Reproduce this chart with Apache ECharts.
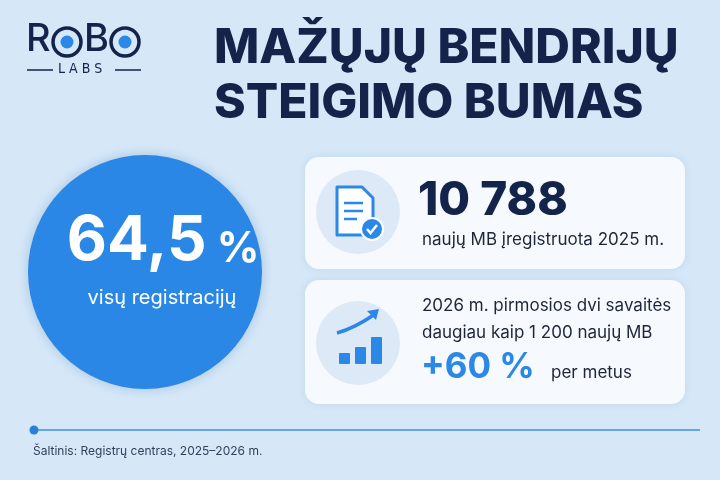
<!DOCTYPE html>
<html lang="lt">
<head>
<meta charset="UTF-8">
<title>Mažųjų bendrijų steigimo bumas</title>
<script src="https://cdn.jsdelivr.net/npm/echarts@6/dist/echarts.min.js"></script>
<style>
    *{margin:0;padding:0;}
    html,body{width:100%;height:100%;background:#d6e8f8;}
    .main{width:720px;height:480px;}
</style>
</head>
<body>
<div class="main"></div>
<script>
    const titleLines = ['MAŽŲJŲ BENDRIJŲ', 'STEIGIMO BUMAS'];
    const shareValue = ['64,5', '%'];
    const shareLabel = 'visų registracijų';
    const registered = ['10 788', 'naujų MB įregistruota 2025 m.'];
    const growthLines = ['2026 m. pirmosios dvi savaitės', 'daugiau kaip 1 200 naujų MB'];
    const growthValue = ['+60 %', 'per metus'];
    const iconBars = [11, 17, 27];
    const source = 'Šaltinis: Registrų centras, 2025–2026 m.';

    const F = 'Inter, "Noto Sans", sans-serif';
    const navy = '#13234a';
    const blue = '#2b88e6';

    let main = echarts.init(document.getElementsByClassName('main')[0]);

    let bars = iconBars.map((h, i) => ({
        type: 'rect',
        shape: {x: 339 + i * 16, y: 364 - h, width: 11, height: h, r: 1},
        style: {fill: blue}
    }));

    let graphic = [
        // logo
        {type: 'text', left: 26, top: 21, style: {text: 'R', font: '500 38px ' + F, fill: navy}},
        {type: 'circle', shape: {cx: 67, cy: 42, r: 14}, style: {fill: 'none', stroke: navy, lineWidth: 3.5}},
        {type: 'circle', shape: {cx: 67, cy: 42, r: 6.5}, style: {fill: blue}},
        {type: 'text', left: 84, top: 21, style: {text: 'B', font: '500 38px ' + F, fill: navy}},
        {type: 'circle', shape: {cx: 125, cy: 42, r: 14}, style: {fill: 'none', stroke: navy, lineWidth: 3.5}},
        {type: 'circle', shape: {cx: 125, cy: 42, r: 6.5}, style: {fill: blue}},
        {type: 'line', shape: {x1: 27, y1: 70, x2: 53, y2: 70}, style: {stroke: navy, lineWidth: 1.5}},
        {type: 'line', shape: {x1: 115, y1: 70, x2: 141, y2: 70}, style: {stroke: navy, lineWidth: 1.5}},
        {type: 'text', left: 58, top: 62, style: {text: 'L A B S', font: '14px "DejaVu Sans Condensed", sans-serif', fill: navy}},
        // title
        {type: 'text', left: 214, top: 25, style: {text: titleLines[0], font: '800 48px ' + F, fill: navy}},
        {type: 'text', left: 214, top: 80, style: {text: titleLines[1], font: '800 48px ' + F, fill: navy}},
        // big circle
        {type: 'circle', shape: {cx: 145, cy: 272, r: 117}, style: {fill: '#2a87e5', shadowBlur: 12, shadowColor: 'rgba(20,80,160,0.25)'}},
        {type: 'text', x: 163, y: 272, style: {
            text: '{a|' + shareValue[0] + '}{b| ' + shareValue[1] + '}', align: 'center', verticalAlign: 'bottom',
            rich: {a: {font: '700 62px ' + F, fill: '#fff'}, b: {font: '700 42px ' + F, fill: '#fff', padding: [16, 0, 0, 0]}}
        }},
        {type: 'text', x: 162, y: 298, style: {text: shareLabel, align: 'center', verticalAlign: 'middle', font: '20px ' + F, fill: '#fff'}},
        // cards
        {type: 'rect', shape: {x: 305, y: 157, width: 380, height: 112, r: 14}, style: {fill: '#f6f9fd', shadowBlur: 8, shadowColor: 'rgba(40,90,150,0.12)'}},
        {type: 'rect', shape: {x: 305, y: 280, width: 380, height: 124, r: 14}, style: {fill: '#f6f9fd', shadowBlur: 8, shadowColor: 'rgba(40,90,150,0.12)'}},
        {type: 'circle', shape: {cx: 358, cy: 212, r: 42}, style: {fill: '#dde9f6'}},
        {type: 'circle', shape: {cx: 358, cy: 343, r: 42}, style: {fill: '#dde9f6'}},
        // document icon
        {type: 'polygon', shape: {points: [[337, 187], [362, 187], [373, 198], [373, 235], [337, 235]]}, style: {fill: '#fff', stroke: blue, lineWidth: 3, lineJoin: 'round'}},
        {type: 'line', shape: {x1: 344, y1: 203, x2: 363, y2: 203}, style: {stroke: blue, lineWidth: 2.5}},
        {type: 'line', shape: {x1: 344, y1: 211, x2: 363, y2: 211}, style: {stroke: blue, lineWidth: 2.5}},
        {type: 'line', shape: {x1: 344, y1: 219, x2: 357, y2: 219}, style: {stroke: blue, lineWidth: 2.5}},
        {type: 'circle', shape: {cx: 372, cy: 229, r: 11}, style: {fill: blue, stroke: '#fff', lineWidth: 2}},
        {type: 'polyline', shape: {points: [[367, 229], [370.5, 233], [377, 225]]}, style: {stroke: '#fff', lineWidth: 2.5, fill: 'none'}},
        // growth icon
        ...bars,
        {type: 'bezierCurve', shape: {x1: 337, y1: 333, cpx1: 355, cpy1: 328, x2: 375, y2: 314}, style: {stroke: blue, lineWidth: 3.5, fill: 'none'}},
        {type: 'polygon', shape: {points: [[379, 309], [367, 311], [376, 320]]}, style: {fill: blue}},
        // card texts
        {type: 'text', left: 418, top: 178, style: {text: registered[0], font: '800 46px ' + F, fill: navy}},
        {type: 'text', left: 422, top: 231, style: {text: registered[1], font: '17px ' + F, fill: '#1d2538'}},
        {type: 'text', left: 422, top: 297, style: {text: growthLines[0], font: '17px ' + F, fill: '#1d2538'}},
        {type: 'text', left: 422, top: 324, style: {text: growthLines[1], font: '17px ' + F, fill: '#1d2538'}},
        {type: 'text', left: 421, top: 350, style: {text: growthValue[0], font: '700 35px ' + F, fill: blue}},
        {type: 'text', left: 551, top: 364, style: {text: growthValue[1], font: '17px ' + F, fill: '#1d2538'}},
        // footer
        {type: 'line', shape: {x1: 33, y1: 430, x2: 700, y2: 430}, style: {stroke: '#3d8fe0', lineWidth: 1.5}},
        {type: 'circle', shape: {cx: 34, cy: 430, r: 4.5}, style: {fill: '#2a7fd8'}},
        {type: 'text', left: 33, top: 445, style: {text: source, font: '12px ' + F, fill: '#33405a'}}
    ];

    main.setOption({backgroundColor: '#d6e8f8', graphic});
</script>
</body>
</html>
